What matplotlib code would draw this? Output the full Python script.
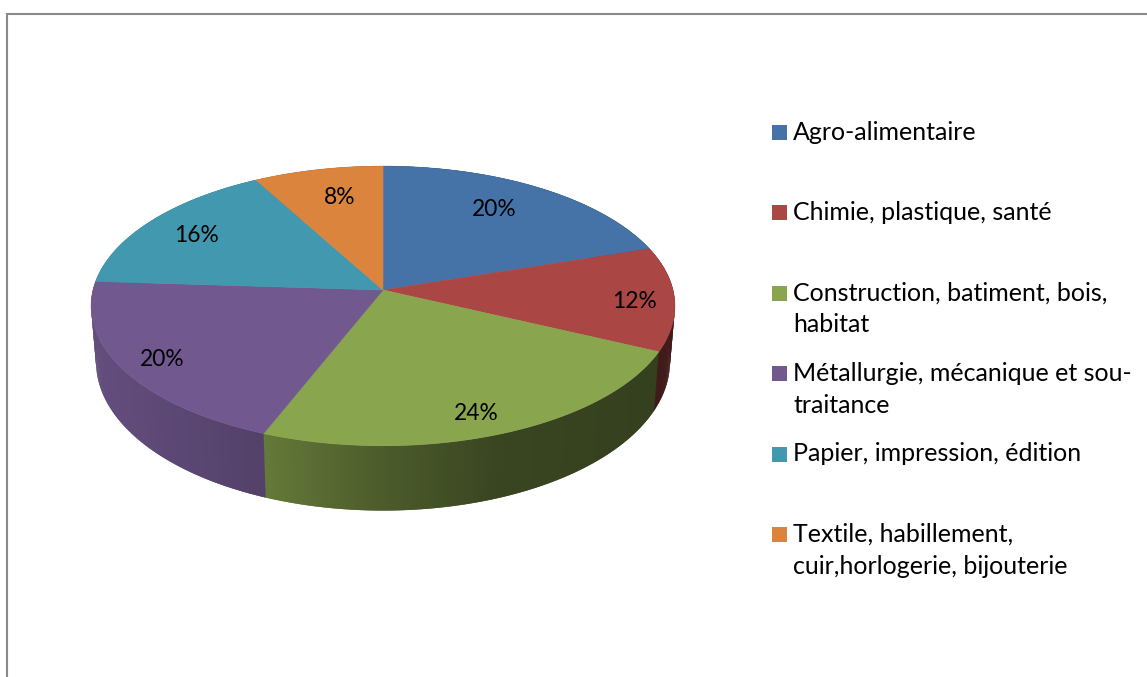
#!/usr/bin/env python3
"""3D looking pie of sector shares, drawn with polygons in pixel space."""
import numpy as np
import matplotlib
matplotlib.use("Agg")
import matplotlib.pyplot as plt
from matplotlib.patches import Polygon, Rectangle

plt.rcParams["font.family"] = ["Lato", "DejaVu Sans"]

categories = ["Agro-alimentaire", "Chimie, plastique, santé",
              "Construction, batiment, bois,\nhabitat",
              "Métallurgie, mécanique et sou-\ntraitance",
              "Papier, impression, édition",
              "Textile, habillement,\ncuir,horlogerie, bijouterie"]
shares = [20, 12, 24, 20, 16, 8]
colors = ["#4573A7", "#AA4644", "#89A54E", "#71588F", "#4198AF", "#DB843D"]

W, H = 1147, 677
CX, CY = 383, 290       # pie apex in pixels
RX, RY = 290, 138       # radii of the disc
PERSP = 0.114           # perspective strength
FS_LEGEND = 18
FS_LABEL = 16.4

# side wall: shade against x
SHADE_X = [91, 262, 380, 500, 680]
SHADE_F = [0.88, 0.74, 0.56, 0.42, 0.38]

# where the percentage labels sit
LABEL_POS = [(494, 210), (634, 301), (476, 413), (162, 359), (196, 236), (340, 198)]


def project(t):
    """Disc angle (clockwise from the back) -> offsets from the apex."""
    u, v = np.sin(t), np.cos(t)
    d = 1 + PERSP * v
    return RX * u / d, -RY * v / d


def lower(dx, dy):
    """Offsets on the top rim -> pixels on the bottom rim."""
    return CX + dx * 0.983, CY + dy * 1.063 + 55


def top_rim(t):
    dx, dy = project(t)
    return CX + dx, CY + dy


fig = plt.figure(figsize=(W / 100, H / 100), dpi=100)
ax = fig.add_axes([0, 0, 1, 1])
ax.set_xlim(0, W); ax.set_ylim(H, 0); ax.axis("off")

# frame, only top and left show up
ax.plot([6.5, 6.5, W], [H, 13.5, 13.5], color="#8a8a8a", lw=1.5, solid_joinstyle="miter")

edges = np.cumsum([0] + shares) / sum(shares) * 2 * np.pi

# ── walls ─────────────────────────────────────────────────────────────────────
# each quad runs over into the next one, so no seams show between them
DT = 0.012
for i, c in enumerate(colors):
    rgb = np.array(matplotlib.colors.to_rgb(c))
    for a in np.arange(edges[i], edges[i + 1], DT):
        ax_, ay_ = project(a)
        bx_, by_ = project(a + 2 * DT)
        f = np.interp(CX + ax_, SHADE_X, SHADE_F)
        quad = [(CX + ax_, CY + ay_), (CX + bx_, CY + by_), lower(bx_, by_), lower(ax_, ay_)]
        ax.add_patch(Polygon(quad, closed=True, fc=rgb * f, ec="none"))

# ── top ───────────────────────────────────────────────────────────────────────
for i, c in enumerate(colors):
    ts = np.linspace(edges[i], edges[i + 1], 120)
    xs, ys = top_rim(ts)
    pts = np.column_stack([np.r_[CX, xs], np.r_[CY, ys]])
    ax.add_patch(Polygon(pts, closed=True, fc=c, ec=c, lw=0.4))

for s, (x, y) in zip(shares, LABEL_POS):
    ax.text(x, y, f"{s}%", fontsize=FS_LABEL, ha="center", va="center", color="black")

# ── legend ────────────────────────────────────────────────────────────────────
for i, (name, c) in enumerate(zip(categories, colors)):
    y0 = 132.5 + i * 80.4
    ax.add_patch(Rectangle((772, y0 - 7.5), 15, 15, fc=c, ec="none"))
    for j, line in enumerate(name.split("\n")):
        ax.text(793, y0 + 7 + j * 32, line, fontsize=FS_LEGEND, ha="left", va="baseline", color="black")

fig.savefig("out.png", dpi=100)
